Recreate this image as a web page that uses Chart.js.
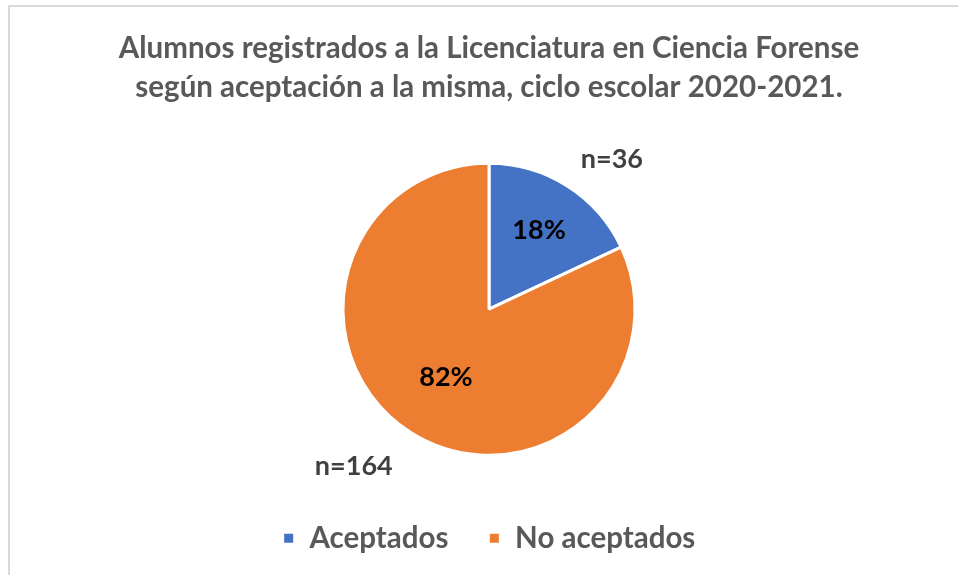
<!DOCTYPE html>
<html>
<head>
<meta charset="utf-8">
<script src="https://cdn.jsdelivr.net/npm/chart.js@4"></script>
<style>
html,body{margin:0;padding:0;background:#fff;}
#wrap{position:relative;width:958px;height:575px;}
</style>
</head>
<body>
<div id="wrap"><canvas id="c" width="958" height="575"></canvas></div>
<script>
const titleLines = ["Alumnos registrados a la Licenciatura en Ciencia Forense", "según aceptación a la misma, ciclo escolar 2020-2021."];
const categories = ["Aceptados", "No aceptados"];
const counts = [36, 164];
const percentLabels = ["18%", "82%"];
const countLabels = ["n=36", "n=164"];
const colors = ["#4472C4", "#ED7D31"];

const frame = {
  id: 'frame',
  beforeDraw(chart) {
    const ctx = chart.ctx;
    ctx.save();
    ctx.fillStyle = '#fff';
    ctx.fillRect(0, 0, chart.width, chart.height);
    ctx.strokeStyle = '#d9d9d9';
    ctx.lineWidth = 2;
    ctx.beginPath();
    ctx.moveTo(9, chart.height);
    ctx.lineTo(9, 6);
    ctx.lineTo(chart.width, 6);
    ctx.stroke();
    ctx.restore();
  }
};

const labelsPlugin = {
  id: 'sliceLabels',
  afterDatasetsDraw(chart) {
    const ctx = chart.ctx;
    const meta = chart.getDatasetMeta(0);
    const innerFactor = [0.64, 0.55];
    const outerFactor = [1.33, 1.42];
    const outerShift = [0.12, 0.145];
    ctx.save();
    ctx.font = 'bold 27px Lato';
    ctx.textAlign = 'center';
    ctx.textBaseline = 'middle';
    meta.data.forEach((arc, i) => {
      const p = arc.getProps(['x','y','startAngle','endAngle','outerRadius']);
      const mid = (p.startAngle + p.endAngle) / 2;
      const r = p.outerRadius;
      ctx.fillStyle = '#000';
      ctx.fillText(percentLabels[i], p.x + Math.cos(mid) * r * innerFactor[i], p.y + Math.sin(mid) * r * innerFactor[i]);
      const a2 = mid + outerShift[i];
      ctx.fillStyle = '#404040';
      ctx.fillText(countLabels[i], p.x + Math.cos(a2) * r * outerFactor[i], p.y + Math.sin(a2) * r * outerFactor[i]);
    });
    ctx.restore();
  }
};

new Chart(document.getElementById('c'), {
  type: 'pie',
  data: {
    labels: categories,
    datasets: [{
      data: counts,
      backgroundColor: colors,
      borderColor: '#ffffff',
      borderWidth: 3,
      radius: 146
    }]
  },
  options: {
    responsive: false,
    animation: false,
    layout: { padding: { left: 20, right: 0, top: 0, bottom: 12 } },
    plugins: {
      tooltip: { enabled: false },
      title: {
        display: true,
        text: titleLines,
        color: '#595959',
        font: { family: 'Lato', size: 29.5, weight: 'bold', lineHeight: 1.32 },
        padding: { top: 29, bottom: 28 }
      },
      legend: {
        position: 'bottom',
        labels: {
          color: '#595959',
          font: { family: 'Lato', size: 29.5, weight: 'bold' },
          boxWidth: 12,
          boxHeight: 12,
          padding: 40
        }
      }
    }
  },
  plugins: [frame, labelsPlugin]
});
</script>
</body>
</html>
